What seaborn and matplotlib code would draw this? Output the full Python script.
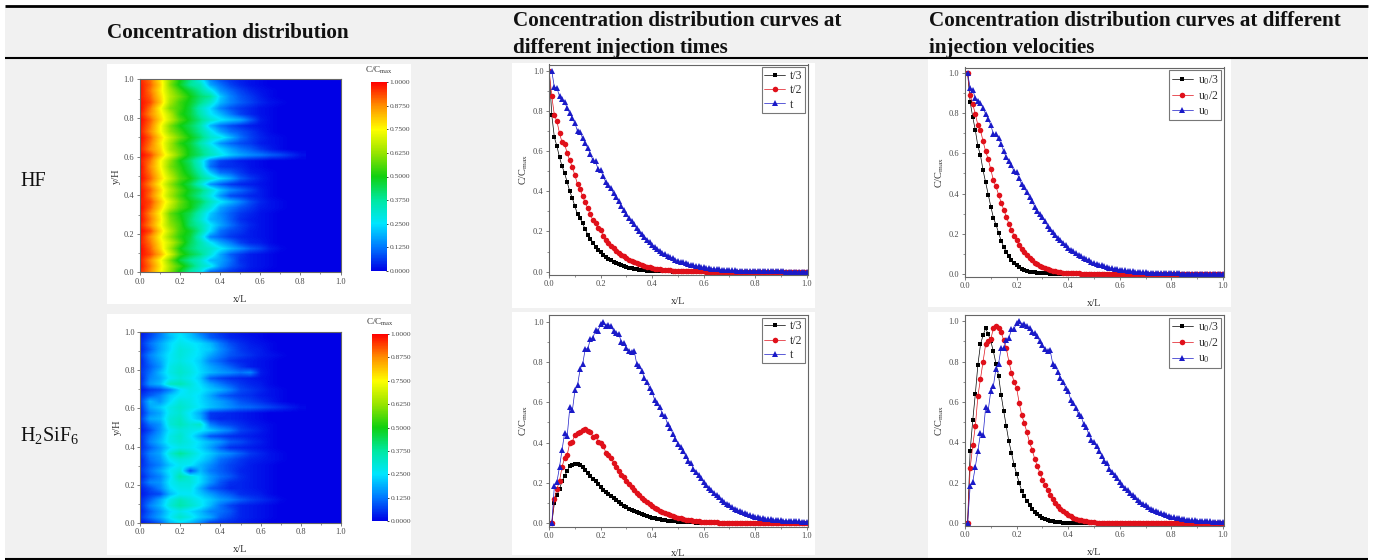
import numpy as np
import matplotlib
matplotlib.use("Agg")
import matplotlib.pyplot as plt
import seaborn as sns
from matplotlib.colors import LinearSegmentedColormap
from matplotlib.lines import Line2D
from matplotlib.patches import Rectangle
from matplotlib.ticker import MultipleLocator

W, H = 1374, 560

# x/L grid of the line charts
x_curve = np.arange(101) / 100

# HF, different injection times
hf_t3 = [1.0, .78, .67, .625, .57, .525, .49, .445, .40, .365,
         .325, .285, .265, .24, .21, .185, .165, .145, .125, .11,
         .097, .085, .075, .065, .058, .05, .044, .038, .032, .027,
         .023, .019, .016, .013, .011, .009, .007, .006, .005, .004,
         .003, .003, .002, .002, .001, .001, .001, .001, 0, 0,
         0, 0, 0, 0, 0, 0, 0, 0, 0, 0,
         0, 0, 0, 0, 0, 0, 0, 0, 0, 0,
         0, 0, 0, 0, 0, 0, 0, 0, 0, 0,
         0, 0, 0, 0, 0, 0, 0, 0, 0, 0,
         0, 0, 0, 0, 0, 0, 0, 0, 0, 0, 0]
hf_t2 = [1.0, .875, .78, .75, .69, .645, .635, .59, .555, .52,
         .48, .435, .41, .375, .345, .315, .285, .255, .24, .215,
         .205, .18, .16, .145, .13, .118, .105, .095, .085, .076,
         .068, .06, .053, .047, .041, .036, .032, .028, .024, .021,
         .018, .015, .013, .011, .01, .008, .007, .006, .005, .004,
         .004, .003, .003, .002, .002, .002, .001, .001, .001, .001,
         .001, 0, 0, 0, 0, 0, 0, 0, 0, 0,
         0, 0, 0, 0, 0, 0, 0, 0, 0, 0,
         0, 0, 0, 0, 0, 0, 0, 0, 0, 0,
         0, 0, 0, 0, 0, 0, 0, 0, 0, 0, 0]
hf_t = [1.0, 1.0, .92, .915, .875, .86, .845, .815, .79, .765,
        .74, .70, .695, .665, .64, .615, .585, .555, .55, .51,
        .505, .475, .445, .43, .415, .39, .37, .35, .325, .305,
        .285, .265, .25, .235, .215, .20, .19, .175, .16, .15,
        .135, .125, .115, .105, .095, .087, .08, .073, .067, .06,
        .055, .05, .046, .042, .038, .034, .031, .028, .026, .023,
        .021, .019, .017, .015, .014, .012, .011, .01, .009, .008,
        .007, .006, .006, .005, .005, .004, .004, .003, .003, .003,
        .002, .002, .002, .002, .001, .001, .001, .001, .001, .001,
        .001, .001, 0, 0, 0, 0, 0, 0, 0, 0, 0]

# HF, different injection velocities
hf_u3 = [1.0, 1.0, .855, .78, .715, .635, .59, .515, .455, .395,
         .335, .28, .245, .205, .165, .135, .11, .09, .07, .055,
         .043, .033, .026, .02, .015, .011, .009, .007, .005, .004,
         .003, .002, .002, .001, .001, .001, 0, 0, 0, 0,
         0, 0, 0, 0, 0, 0, 0, 0, 0, 0,
         0, 0, 0, 0, 0, 0, 0, 0, 0, 0,
         0, 0, 0, 0, 0, 0, 0, 0, 0, 0,
         0, 0, 0, 0, 0, 0, 0, 0, 0, 0,
         0, 0, 0, 0, 0, 0, 0, 0, 0, 0,
         0, 0, 0, 0, 0, 0, 0, 0, 0, 0, 0]
hf_u2 = [1.0, 1.0, .89, .845, .795, .74, .715, .66, .61, .57,
         .52, .465, .435, .395, .355, .32, .285, .25, .22, .19,
         .17, .145, .125, .11, .095, .08, .067, .056, .047, .04,
         .033, .027, .022, .018, .015, .012, .01, .008, .006, .005,
         .004, .003, .003, .002, .002, .001, .001, .001, .001, 0,
         0, 0, 0, 0, 0, 0, 0, 0, 0, 0,
         0, 0, 0, 0, 0, 0, 0, 0, 0, 0,
         0, 0, 0, 0, 0, 0, 0, 0, 0, 0,
         0, 0, 0, 0, 0, 0, 0, 0, 0, 0,
         0, 0, 0, 0, 0, 0, 0, 0, 0, 0, 0]
hf_u = [1.0, 1.0, .925, .915, .875, .86, .85, .825, .795, .77,
        .74, .695, .695, .675, .645, .61, .58, .56, .54, .51,
        .505, .475, .445, .43, .405, .385, .365, .335, .315, .30,
        .285, .265, .24, .225, .21, .195, .18, .17, .155, .145,
        .13, .12, .112, .103, .095, .087, .08, .073, .067, .06,
        .055, .05, .046, .042, .038, .034, .031, .028, .026, .023,
        .021, .019, .017, .015, .014, .012, .011, .01, .009, .008,
        .007, .006, .006, .005, .005, .004, .004, .003, .003, .003,
        .002, .002, .002, .002, .001, .001, .001, .001, .001, .001,
        .001, .001, 0, 0, 0, 0, 0, 0, 0, 0, 0]

# H2SiF6, different injection times
si_t3 = [0, 0, .10, .14, .17, .21, .235, .26, .285, .29,
         .295, .295, .29, .28, .265, .25, .235, .22, .21, .195,
         .18, .165, .155, .145, .135, .125, .115, .105, .095, .088,
         .08, .073, .066, .06, .055, .05, .045, .04, .036, .032,
         .028, .025, .022, .02, .017, .015, .013, .011, .01, .009,
         .008, .007, .006, .005, .005, .004, .004, .003, .003, .002,
         .002, .002, .001, .001, .001, .001, .001, .001, 0, 0,
         0, 0, 0, 0, 0, 0, 0, 0, 0, 0,
         0, 0, 0, 0, 0, 0, 0, 0, 0, 0,
         0, 0, 0, 0, 0, 0, 0, 0, 0, 0, 0]
si_t2 = [0, 0, .12, .17, .21, .28, .325, .34, .40, .405,
         .44, .45, .455, .465, .47, .46, .455, .43, .435, .405,
         .40, .385, .35, .34, .325, .30, .28, .26, .24, .23,
         .21, .195, .18, .165, .15, .14, .125, .115, .105, .095,
         .085, .077, .07, .063, .057, .05, .045, .04, .035, .031,
         .027, .024, .021, .018, .016, .014, .012, .011, .009, .008,
         .007, .006, .005, .005, .004, .004, .003, .003, .002, .002,
         .002, .002, .001, .001, .001, .001, .001, .001, 0, 0,
         0, 0, 0, 0, 0, 0, 0, 0, 0, 0,
         0, 0, 0, 0, 0, 0, 0, 0, 0, 0, 0]
si_t = [0, 0, .185, .205, .28, .365, .45, .435, .575, .56,
        .66, .685, .765, .79, .865, .865, .915, .92, .96, .955,
        .99, 1.0, .98, .985, .98, .955, .945, .94, .90, .895,
        .87, .855, .85, .855, .79, .78, .755, .72, .70, .67,
        .65, .61, .595, .575, .54, .53, .49, .475, .445, .42,
        .395, .38, .36, .335, .31, .30, .27, .255, .24, .225,
        .205, .19, .175, .165, .15, .14, .13, .115, .105, .098,
        .09, .08, .073, .066, .06, .055, .05, .046, .041, .037,
        .033, .03, .027, .025, .022, .02, .019, .017, .016, .015,
        .014, .013, .012, .011, .01, .01, .009, .009, .008, .008, .008]

# H2SiF6, different injection velocities
si_u3 = [0, 0, .36, .51, .64, .785, .885, .93, .965, .935,
         .90, .85, .79, .73, .635, .555, .48, .405, .35, .29,
         .245, .20, .16, .135, .11, .09, .072, .057, .045, .036,
         .028, .022, .017, .013, .01, .008, .006, .005, .004, .003,
         .002, .002, .001, .001, .001, 0, 0, 0, 0, 0,
         0, 0, 0, 0, 0, 0, 0, 0, 0, 0,
         0, 0, 0, 0, 0, 0, 0, 0, 0, 0,
         0, 0, 0, 0, 0, 0, 0, 0, 0, 0,
         0, 0, 0, 0, 0, 0, 0, 0, 0, 0,
         0, 0, 0, 0, 0, 0, 0, 0, 0, 0, 0]
si_u2 = [0, 0, .275, .385, .48, .63, .715, .80, .885, .90,
         .91, .965, .975, .965, .945, .905, .865, .80, .745, .70,
         .67, .595, .535, .495, .45, .40, .365, .32, .285, .25,
         .215, .19, .165, .14, .12, .10, .085, .072, .06, .05,
         .042, .034, .028, .023, .019, .015, .012, .01, .008, .006,
         .005, .004, .003, .003, .002, .002, .001, .001, .001, .001,
         0, 0, 0, 0, 0, 0, 0, 0, 0, 0,
         0, 0, 0, 0, 0, 0, 0, 0, 0, 0,
         0, 0, 0, 0, 0, 0, 0, 0, 0, 0,
         0, 0, 0, 0, 0, 0, 0, 0, 0, 0, 0]
si_u = [0, 0, .185, .205, .28, .36, .445, .435, .575, .56,
        .655, .68, .765, .79, .865, .865, .905, .915, .96, .96,
        .99, 1.0, .98, .985, .975, .965, .945, .94, .925, .90,
        .88, .86, .85, .855, .79, .78, .75, .72, .70, .67,
        .655, .61, .595, .57, .54, .53, .49, .475, .44, .41,
        .40, .38, .36, .335, .31, .30, .27, .255, .24, .225,
        .205, .19, .175, .165, .15, .14, .13, .115, .105, .098,
        .09, .08, .073, .066, .06, .055, .05, .046, .041, .037,
        .033, .03, .027, .025, .022, .02, .019, .017, .016, .015,
        .014, .013, .012, .011, .01, .01, .009, .009, .008, .008, .008]

time_labels = ["t/3", "t/2", "t"]
vel_labels = ["u$_0$/3", "u$_0$/2", "u$_0$"]

# concentration maps, in % of C/Cmax. rows run from y/H=1 down to 0,
# columns are x/L = 0, 0.05 ... 0.80 (blue beyond that)
map_x = np.arange(17) * 0.05
hf_map = [
    [97, 90, 78, 62, 50, 40, 28, 14, 8, 5, 3, 2, 1, 0, 0, 0, 0],
    [98, 92, 80, 60, 48, 38, 34, 18, 12, 7, 4, 2, 1, 0, 0, 0, 0],
    [99, 90, 78, 64, 54, 46, 38, 28, 16, 11, 7, 4, 2, 1, 0, 0, 0],
    [98, 92, 80, 66, 58, 50, 42, 38, 22, 14, 9, 6, 3, 1, 0, 0, 0],
    [99, 94, 82, 64, 54, 48, 40, 32, 20, 14, 10, 7, 4, 2, 1, 0, 0],
    [100, 90, 76, 60, 54, 46, 34, 24, 14, 9, 6, 4, 2, 1, 0, 0, 0],
    [98, 88, 78, 66, 52, 46, 36, 26, 20, 13, 7, 4, 2, 1, 0, 0, 0],
    [100, 92, 80, 68, 56, 48, 40, 32, 26, 22, 18, 10, 3, 1, 0, 0, 0],
    [99, 90, 76, 60, 50, 44, 36, 20, 12, 8, 5, 3, 2, 1, 0, 0, 0],
    [98, 88, 76, 62, 54, 46, 38, 28, 18, 12, 9, 6, 3, 1, 0, 0, 0],
    [100, 92, 80, 68, 58, 50, 42, 32, 28, 20, 12, 7, 4, 2, 1, 0, 0],
    [99, 90, 78, 64, 52, 46, 36, 26, 16, 11, 8, 6, 3, 2, 1, 0, 0],
    [98, 88, 80, 64, 56, 48, 40, 32, 24, 18, 13, 10, 6, 3, 1, 0, 0],
    [100, 94, 82, 70, 58, 48, 42, 34, 28, 22, 18, 15, 13, 10, 8, 5, 2],
    [98, 90, 76, 62, 50, 42, 30, 14, 7, 5, 3, 2, 1, 0, 0, 0, 0],
    [100, 88, 76, 60, 52, 44, 32, 12, 6, 5, 4, 2, 1, 0, 0, 0, 0],
    [99, 90, 78, 64, 54, 46, 36, 22, 12, 10, 6, 3, 2, 1, 0, 0, 0],
    [100, 92, 80, 68, 56, 50, 40, 32, 24, 18, 10, 6, 3, 1, 0, 0, 0],
    [98, 88, 76, 62, 52, 44, 32, 16, 10, 6, 4, 3, 2, 1, 0, 0, 0],
    [99, 92, 80, 66, 56, 48, 42, 32, 22, 15, 11, 7, 3, 1, 0, 0, 0],
    [100, 90, 78, 64, 54, 46, 38, 28, 16, 8, 6, 4, 3, 1, 0, 0, 0],
    [98, 94, 82, 70, 58, 50, 44, 34, 26, 20, 14, 8, 4, 2, 1, 0, 0],
    [100, 92, 80, 66, 56, 50, 40, 30, 18, 13, 9, 6, 3, 2, 1, 0, 0],
    [99, 88, 76, 58, 50, 44, 34, 22, 15, 10, 6, 4, 2, 1, 0, 0, 0],
    [100, 90, 78, 60, 52, 42, 32, 20, 16, 10, 5, 3, 2, 1, 0, 0, 0],
    [98, 88, 76, 62, 54, 42, 36, 26, 18, 12, 7, 4, 2, 1, 0, 0, 0],
    [100, 94, 80, 66, 54, 48, 38, 24, 12, 8, 6, 3, 2, 1, 0, 0, 0],
    [99, 88, 76, 62, 52, 46, 32, 14, 10, 6, 4, 3, 2, 1, 0, 0, 0],
    [98, 90, 78, 68, 56, 44, 36, 26, 18, 13, 7, 4, 3, 1, 0, 0, 0],
    [100, 92, 80, 64, 50, 42, 36, 32, 26, 20, 15, 10, 7, 3, 1, 0, 0],
    [99, 94, 84, 70, 54, 46, 40, 30, 18, 10, 6, 3, 2, 1, 0, 0, 0],
    [98, 88, 76, 60, 46, 38, 32, 20, 18, 12, 5, 3, 2, 1, 0, 0, 0],
    [99, 90, 78, 64, 54, 44, 34, 28, 16, 10, 6, 3, 2, 1, 0, 0, 0],
    [97, 88, 76, 62, 48, 36, 28, 10, 8, 5, 3, 2, 1, 0, 0, 0, 0],
]
si_map = [
    [2, 6, 12, 22, 24, 20, 12, 8, 5, 3, 2, 1, 1, 0, 0, 0, 0],
    [3, 8, 14, 20, 26, 22, 17, 10, 7, 4, 3, 2, 1, 0, 0, 0, 0],
    [4, 12, 18, 24, 28, 26, 24, 20, 13, 8, 5, 3, 2, 1, 0, 0, 0],
    [3, 10, 18, 24, 30, 28, 24, 22, 15, 10, 6, 4, 3, 1, 0, 0, 0],
    [5, 14, 20, 26, 30, 27, 24, 18, 13, 9, 7, 5, 3, 2, 1, 0, 0],
    [3, 12, 18, 26, 29, 26, 22, 14, 10, 6, 4, 3, 2, 1, 0, 0, 0],
    [4, 10, 16, 28, 31, 28, 23, 18, 14, 10, 6, 3, 2, 1, 0, 0, 0],
    [5, 12, 20, 28, 32, 29, 24, 20, 17, 15, 12, 14, 3, 1, 0, 0, 0],
    [3, 14, 18, 26, 30, 27, 22, 10, 7, 5, 4, 3, 2, 1, 0, 0, 0],
    [4, 16, 20, 33, 35, 30, 24, 18, 13, 9, 6, 4, 3, 1, 0, 0, 0],
    [2, 6, 8, 14, 24, 28, 26, 22, 19, 14, 8, 6, 4, 2, 1, 0, 0],
    [5, 10, 14, 22, 26, 27, 24, 18, 11, 8, 6, 5, 3, 2, 1, 0, 0],
    [6, 20, 16, 24, 30, 28, 24, 20, 17, 13, 9, 7, 5, 3, 1, 0, 0],
    [4, 18, 22, 28, 32, 29, 25, 21, 18, 15, 12, 11, 9, 7, 5, 3, 1],
    [3, 14, 18, 28, 31, 25, 18, 6, 5, 4, 3, 2, 1, 0, 0, 0, 0],
    [5, 18, 20, 30, 33, 26, 20, 6, 4, 4, 3, 2, 1, 0, 0, 0, 0],
    [3, 12, 16, 30, 34, 30, 32, 14, 9, 7, 5, 3, 2, 1, 0, 0, 0],
    [2, 8, 16, 26, 30, 28, 26, 22, 17, 13, 7, 5, 3, 1, 0, 0, 0],
    [4, 12, 18, 28, 32, 26, 18, 9, 7, 5, 4, 3, 2, 1, 0, 0, 0],
    [3, 14, 20, 28, 31, 28, 24, 20, 16, 10, 8, 5, 3, 1, 0, 0, 0],
    [4, 10, 16, 24, 28, 27, 23, 17, 10, 5, 4, 3, 2, 1, 0, 0, 0],
    [5, 14, 18, 30, 38, 32, 26, 22, 17, 14, 10, 6, 4, 2, 1, 0, 0],
    [3, 12, 16, 26, 30, 28, 24, 19, 12, 9, 6, 4, 3, 2, 1, 0, 0],
    [4, 10, 14, 22, 27, 26, 20, 15, 10, 7, 5, 3, 2, 1, 0, 0, 0],
    [5, 12, 18, 26, 30, 8, 20, 13, 10, 7, 4, 3, 2, 1, 0, 0, 0],
    [3, 10, 14, 24, 36, 30, 24, 17, 12, 9, 5, 3, 2, 1, 0, 0, 0],
    [5, 14, 16, 26, 30, 30, 24, 16, 9, 5, 4, 3, 2, 1, 0, 0, 0],
    [3, 8, 14, 24, 28, 28, 19, 10, 7, 4, 4, 3, 2, 1, 0, 0, 0],
    [2, 6, 8, 20, 26, 26, 22, 17, 12, 9, 5, 4, 3, 1, 0, 0, 0],
    [4, 10, 18, 28, 34, 30, 26, 22, 17, 14, 10, 7, 5, 3, 1, 0, 0],
    [4, 14, 20, 30, 36, 32, 27, 20, 12, 7, 4, 3, 2, 1, 0, 0, 0],
    [3, 10, 16, 24, 28, 24, 20, 14, 12, 9, 4, 3, 2, 1, 0, 0, 0],
    [5, 12, 18, 26, 32, 28, 22, 18, 10, 7, 4, 3, 2, 1, 0, 0, 0],
    [2, 5, 10, 20, 24, 20, 14, 6, 5, 4, 3, 2, 1, 0, 0, 0, 0],
]

cbar_ticks = [0, .125, .25, .375, .5, .625, .75, .875, 1]
cbar_labels = ["0.0000", "0.1250", "0.2500", "0.3750", "0.5000",
               "0.6250", "0.7500", "0.8750", "1.0000"]

rainbow = LinearSegmentedColormap.from_list("origin_rainbow", [
    "#0000e6", "#0078ff", "#00e6ff", "#00e8a0", "#10d010",
    "#98e400", "#ffff00", "#ff9000", "#ff0000"])

sns.set_theme(style="ticks")
plt.rcParams["font.family"] = ["Liberation Serif", "DejaVu Serif"]
plt.rcParams["mathtext.fontset"] = "custom"
plt.rcParams["mathtext.rm"] = "Liberation Serif"
plt.rcParams["mathtext.it"] = "Liberation Serif"
plt.rcParams["mathtext.bf"] = "Liberation Serif:bold"

TICK_COL = "#4a4a4a"
SPINE_COL = "#666666"

fig = plt.figure(figsize=(W / 100, H / 100), dpi=100, facecolor="white")


def px_box(left, top, right, bottom):
    return [left / W, 1 - bottom / H, (right - left) / W, (bottom - top) / H]


def add_rect(left, top, right, bottom, color):
    x, y, w, h = px_box(left, top, right, bottom)
    fig.add_artist(Rectangle((x, y), w, h, transform=fig.transFigure,
                             facecolor=color, edgecolor="none", zorder=-5))


def add_hline(y, x0, x1, lw):
    fig.add_artist(Line2D([x0 / W, x1 / W], [1 - y / H, 1 - y / H],
                          color="black", lw=lw, solid_capstyle="butt"))


def style_axes(ax, xlabel, ylabel):
    ax.xaxis.set_major_locator(MultipleLocator(0.2))
    ax.xaxis.set_minor_locator(MultipleLocator(0.1))
    ax.yaxis.set_major_locator(MultipleLocator(0.2))
    ax.yaxis.set_minor_locator(MultipleLocator(0.1))
    ax.tick_params(which="major", length=2.2, width=0.6, pad=1.5, color=SPINE_COL,
                   labelsize=6, labelcolor=TICK_COL)
    ax.tick_params(which="minor", length=1.2, width=0.5, color=SPINE_COL)
    ax.set_xlabel(xlabel, fontsize=7.5, color="#333333", labelpad=6.5)
    ax.set_ylabel(ylabel, fontsize=7.5, color="#333333", labelpad=2)
    for sp in ax.spines.values():
        sp.set_visible(True)
        sp.set_color(SPINE_COL)
        sp.set_linewidth(0.8)


def draw_map(box, cbar_box, values):
    ax = fig.add_axes(px_box(*box))
    ax.set_facecolor(rainbow(0.0))
    half = 0.025
    img = ax.imshow(np.array(values) / 100, cmap=rainbow, vmin=0, vmax=1,
                    aspect="auto", interpolation="bilinear",
                    extent=[map_x[0] - half, map_x[-1] + half, 0 - 0.015, 1 + 0.015])
    ax.set_xlim(0, 1)
    ax.set_ylim(0, 1)
    style_axes(ax, "x/L", "y/H")

    cax = fig.add_axes(px_box(*cbar_box))
    cb = fig.colorbar(img, cax=cax)
    cb.set_ticks(cbar_ticks, labels=cbar_labels)
    cb.outline.set_visible(False)
    cax.tick_params(length=2, width=0.6, pad=1, color="#222222",
                    labelsize=5.4, labelcolor=TICK_COL, direction="inout")
    fig.text((cbar_box[0] + cbar_box[2]) / 2 / W, 1 - (cbar_box[1] - 12) / H,
             "C/C$_{max}$", fontsize=6.5, color="#333333", ha="center", va="center")


def draw_curves(box, series, labels, ylim):
    ax = fig.add_axes(px_box(*box))
    styles = [("black", "s", 3.5), ("#e0101a", "o", 4.0), ("#1a1ac8", "^", 4.8)]
    for vals, lab, (col, mark, size) in zip(series, labels, styles):
        sns.lineplot(x=x_curve, y=vals, ax=ax, color=col, marker=mark, label=lab,
                     markersize=size, markeredgewidth=0, linewidth=0.5,
                     estimator=None, errorbar=None)
    ax.set_xlim(-0.002, 1.004)
    ax.set_ylim(*ylim)
    style_axes(ax, "x/L", "C/C$_{max}$")
    leg = ax.legend(loc="upper right", fontsize=8.5, frameon=True, fancybox=False,
                    edgecolor="#777777", framealpha=1, borderpad=0.2, labelspacing=0.2,
                    handlelength=1.8, handletextpad=0.4, borderaxespad=0.25)
    leg.get_frame().set_linewidth(0.8)
    for txt in leg.get_texts():
        txt.set_color("#333333")


# table background and rules
add_rect(5, 8, 1368, 558, "#f1f1f1")
add_hline(6.3, 5, 1368, 2.0)
add_hline(57.5, 5, 1368, 1.5)
add_hline(559, 5, 1368, 1.5)

# white picture panels
for panel in [(107, 64, 411, 304), (512, 63, 815, 308), (928, 58, 1231, 307),
              (107, 314, 411, 555), (512, 312, 815, 555), (928, 312, 1231, 558)]:
    add_rect(*panel, "white")

draw_map((139.5, 79.5, 340.5, 272.5), (371, 82, 387, 271), hf_map)
draw_map((140, 332, 341, 523), (371.5, 334, 387.5, 521), si_map)

draw_curves((548.7, 64.5, 807.7, 275), [hf_t3, hf_t2, hf_t], time_labels, (-0.017, 1.033))
draw_curves((964.5, 67.5, 1224, 276.7), [hf_u3, hf_u2, hf_u], vel_labels, (-0.014, 1.027))
draw_curves((548.7, 315, 807.7, 526.7), [si_t3, si_t2, si_t], time_labels, (-0.017, 1.033))
draw_curves((964.5, 315, 1224, 526), [si_u3, si_u2, si_u], vel_labels, (-0.013, 1.03))

# header and row labels
head = dict(fontsize=15.2, fontweight="bold", color="#111111", va="center", ha="left")
fig.text(107 / W, 1 - 33 / H, "Concentration distribution", **head)
fig.text(513 / W, 1 - 21.5 / H, "Concentration distribution curves at", **head)
fig.text(513 / W, 1 - 48 / H, "different injection times", **head)
fig.text(929 / W, 1 - 21.5 / H, "Concentration distribution curves at different", **head)
fig.text(929 / W, 1 - 48 / H, "injection velocities", **head)
fig.text(20 / W, 1 - 181 / H, "HF", fontsize=14.5, color="#111111", va="center")
fig.text(20 / W, 1 - 436 / H, "H$_2$SiF$_6$", fontsize=14.5, color="#111111", va="center")

fig.savefig("out.png", dpi=100, facecolor="white")
